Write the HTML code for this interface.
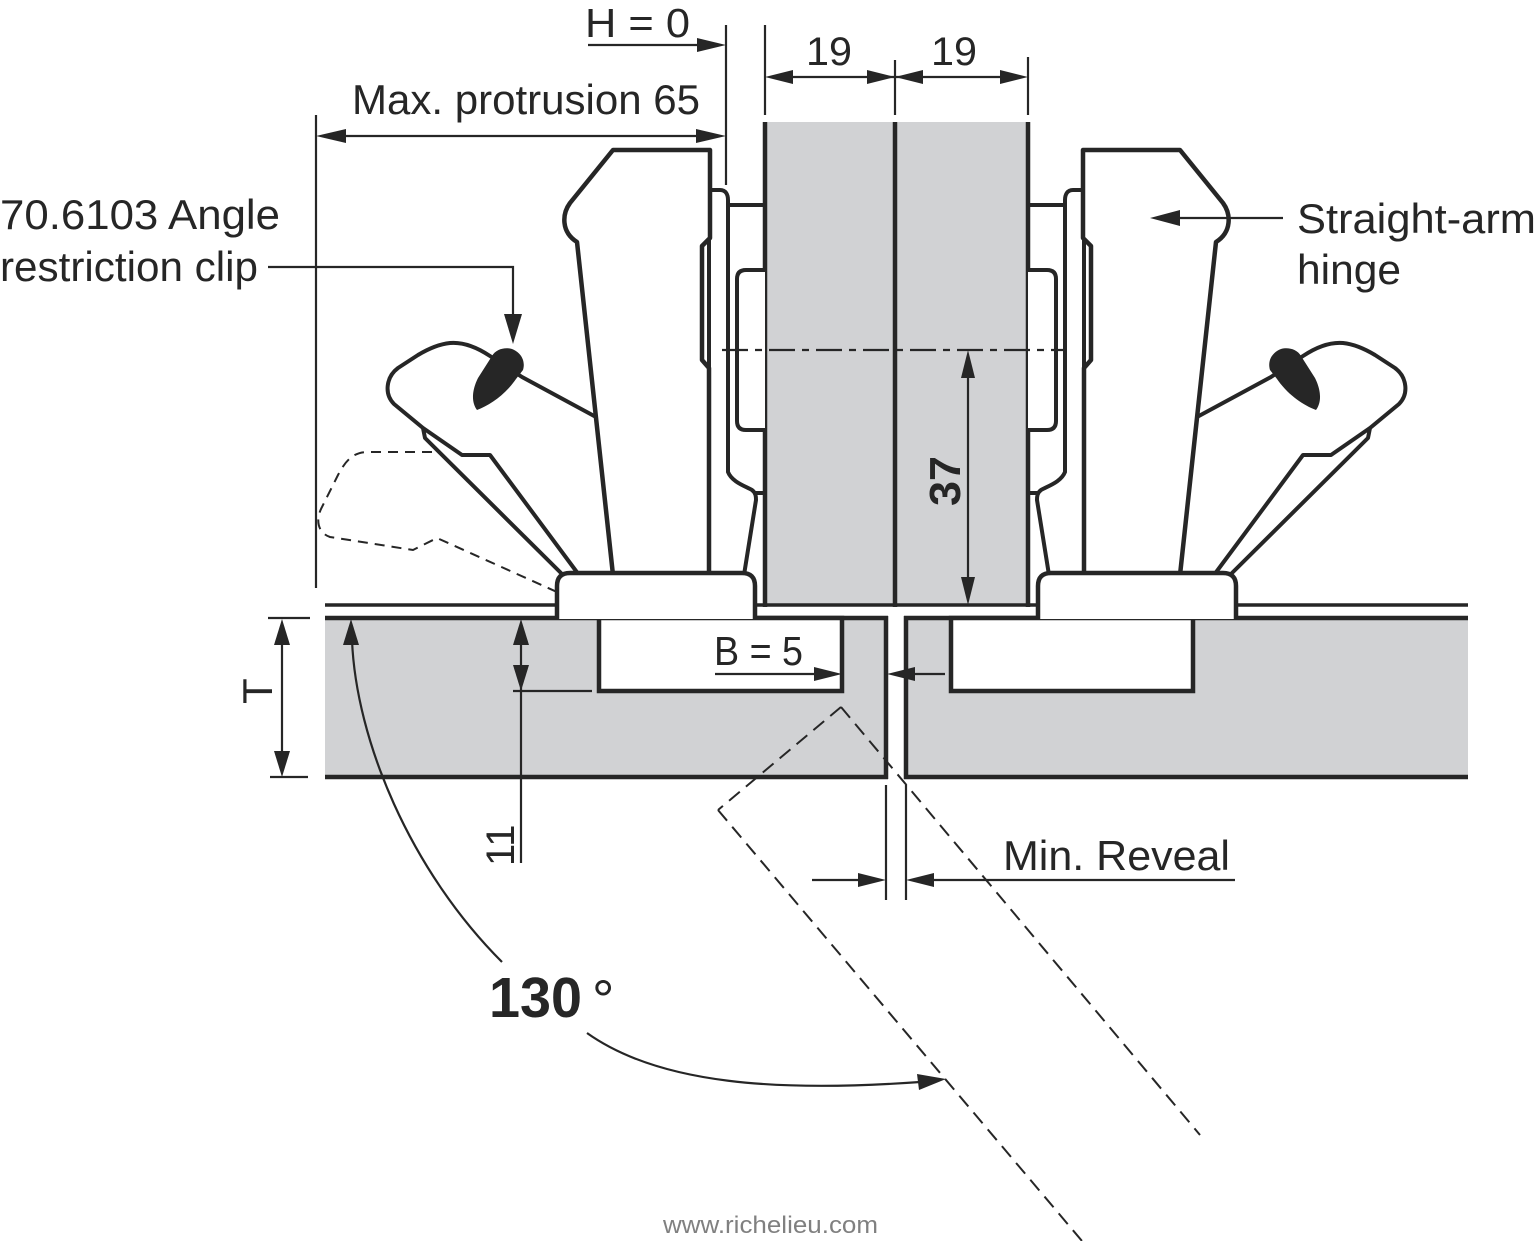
<!DOCTYPE html>
<html>
<head>
<meta charset="utf-8">
<style>
html,body{margin:0;padding:0;background:#fff;}
svg{display:block;}
text{font-family:"Liberation Sans",Arial,sans-serif;fill:#262626;}
</style>
</head>
<body>
<svg width="1536" height="1241" viewBox="0 0 1536 1241" xmlns="http://www.w3.org/2000/svg">
<rect width="1536" height="1241" fill="#fff"/>

<!-- Doors (vertical gray) -->
<rect x="765" y="122" width="263" height="483" fill="#d1d2d4"/>
<g stroke="#262626" stroke-width="4.5" fill="none">
  <line x1="765" y1="122" x2="765" y2="607"/>
  <line x1="895" y1="122" x2="895" y2="607"/>
  <line x1="1028" y1="122" x2="1028" y2="607"/>
</g>

<!-- Cabinet panels -->
<rect x="325" y="618" width="561" height="159" fill="#d1d2d4"/>
<rect x="906" y="618" width="562" height="159" fill="#d1d2d4"/>
<g stroke="#262626" stroke-width="4.5" fill="none">
  <line x1="325" y1="618" x2="888" y2="618"/>
  <line x1="325" y1="777" x2="888" y2="777"/>
  <line x1="886" y1="616" x2="886" y2="779"/>
  <line x1="904" y1="618" x2="1468" y2="618"/>
  <line x1="904" y1="777" x2="1468" y2="777"/>
  <line x1="906" y1="616" x2="906" y2="779"/>
</g>
<g stroke="#262626" stroke-width="3.5" fill="none">
  <line x1="325" y1="605" x2="560" y2="605"/>
  <line x1="752" y1="605" x2="1040" y2="605"/>
  <line x1="1233" y1="605" x2="1468" y2="605"/>
</g>
<!-- recesses -->
<rect x="599" y="618" width="243" height="73" fill="#fff" stroke="#262626" stroke-width="4.5"/>
<rect x="951" y="618" width="242" height="73" fill="#fff" stroke="#262626" stroke-width="4.5"/>

<!-- Hinge definition (left), mirrored for right -->
<defs>
<g id="hinge">
  <path d="M596,417 L522,377 L490,356 C475,346 462,342 450,343 C440,344 428,349 418,355 L398,368 C386,377 384,394 394,404 L423,428 L462,455 L490,455 L579,575 L613,575 Z" fill="#fff" stroke="none"/>
  <path d="M596,417 L522,377 L490,356 C475,346 462,342 450,343 C440,344 428,349 418,355 L398,368 C386,377 384,394 394,404 L423,428 L462,455 L490,455 L579,575" fill="none" stroke="#262626" stroke-width="4" stroke-linejoin="round"/>
  <path d="M423,428 L425,438 L563,575" fill="none" stroke="#262626" stroke-width="4" stroke-linejoin="round"/>
  <path d="M492,356 C496,349 505,347 512,349 C520,352 526,360 523,370 L516,379 C505,395 490,405 477,410 C471,402 472,390 478,378 Z" fill="#262626"/>
  <path d="M709,190 L720,190 C726,190 728,195 728,200 L728,472 C732,482 745,486 752,490 C756,493 756,497 756,500 L744,575 L709,575 Z" fill="#fff" stroke="#262626" stroke-width="4" stroke-linejoin="round"/>
  <line x1="728" y1="205" x2="765" y2="205" stroke="#262626" stroke-width="4"/>
  <line x1="755" y1="493" x2="765" y2="493" stroke="#262626" stroke-width="4"/>
  <path d="M765,270 L746,270 Q737,270 737,279 L737,421 Q737,430 746,430 L765,430" fill="#fff" stroke="#262626" stroke-width="4"/>
  <path d="M613,150 L710,150 L710,238 L702,246 L702,360 L709,368 L709,575 L613,575 L577,242 C561,232 562,214 570,203 Z" fill="#fff" stroke="#262626" stroke-width="4.5" stroke-linejoin="round"/>
  <path d="M557,619 L557,586 Q557,573 570,573 L742,573 Q755,573 755,586 L755,619" fill="#fff" stroke="#262626" stroke-width="4.5" stroke-linejoin="round"/>
</g>
</defs>
<use href="#hinge"/>
<use href="#hinge" transform="translate(1793,0) scale(-1,1)"/>

<!-- dashed alternate lever outline -->
<path d="M432,452 L368,452 C352,452 345,462 338,475 L322,507 C315,520 318,533 330,537 L413,550 L437,538 L557,592" fill="none" stroke="#262626" stroke-width="2" stroke-dasharray="10 7"/>

<!-- dimension lines -->
<g stroke="#262626" stroke-width="2.2" fill="none">
  <line x1="316" y1="115" x2="316" y2="588"/>
  <line x1="726" y1="25" x2="726" y2="185"/>
  <line x1="588" y1="45" x2="700" y2="45"/>
  <line x1="340" y1="136" x2="700" y2="136"/>
  <line x1="765" y1="25" x2="765" y2="115"/>
  <line x1="895" y1="60" x2="895" y2="115"/>
  <line x1="1028" y1="57" x2="1028" y2="115"/>
  <line x1="785" y1="77" x2="1010" y2="77"/>
  <line x1="722" y1="350" x2="1065" y2="350" stroke-dasharray="26 7 7 7"/>
  <line x1="968" y1="370" x2="968" y2="585"/>
  <line x1="268" y1="618" x2="310" y2="618"/>
  <line x1="270" y1="777" x2="308" y2="777"/>
  <line x1="282" y1="640" x2="282" y2="760"/>
  <line x1="521" y1="640" x2="521" y2="863"/>
  <line x1="513" y1="691" x2="592" y2="691"/>
  <line x1="715" y1="674" x2="820" y2="674"/>
  <line x1="910" y1="674" x2="945" y2="674"/>
  <line x1="886" y1="785" x2="886" y2="900"/>
  <line x1="906" y1="785" x2="906" y2="900"/>
  <line x1="812" y1="880" x2="865" y2="880"/>
  <line x1="928" y1="880" x2="1235" y2="880"/>
  <polyline points="268,267 513,267 513,320"/>
  <line x1="1283" y1="218" x2="1175" y2="218"/>
  <path d="M352,640 C356,740 410,870 502,962"/>
  <path d="M587,1033 C660,1085 780,1092 920,1082"/>
</g>

<!-- dashed open door -->
<g stroke="#262626" stroke-width="2" fill="none" stroke-dasharray="14 8">
  <line x1="841" y1="707" x2="718" y2="810"/>
  <line x1="841" y1="707" x2="1200" y2="1135"/>
  <line x1="718" y1="810" x2="1082" y2="1241"/>
</g>

<!-- arrowheads -->
<g fill="#262626">
  <polygon points="726,45 697,38 697,52"/>
  <polygon points="316,136 346,129 346,143"/>
  <polygon points="726,136 696,129 696,143"/>
  <polygon points="765,77 793,70 793,84"/>
  <polygon points="895,77 867,70 867,84"/>
  <polygon points="895,77 923,70 923,84"/>
  <polygon points="1028,77 1000,70 1000,84"/>
  <polygon points="968,350 961,378 975,378"/>
  <polygon points="968,605 961,577 975,577"/>
  <polygon points="282,619 274,645 290,645"/>
  <polygon points="282,777 274,751 290,751"/>
  <polygon points="521,619 513,645 529,645"/>
  <polygon points="521,691 513,665 529,665"/>
  <polygon points="842,674 814,667 814,681"/>
  <polygon points="887,674 915,667 915,681"/>
  <polygon points="886,880 858,873 858,887"/>
  <polygon points="906,880 934,873 934,887"/>
  <polygon points="351,619 343,645 359,645"/>
  <polygon points="946,1079 919,1090 917,1074"/>
  <polygon points="513,344 504,314 522,314"/>
  <polygon points="1150,218 1180,210 1180,226"/>
</g>

<!-- labels -->
<text x="585" y="37" font-size="41" textLength="105" lengthAdjust="spacingAndGlyphs">H = 0</text>
<text x="352" y="114" font-size="42" textLength="348" lengthAdjust="spacingAndGlyphs">Max. protrusion 65</text>
<text x="806" y="65" font-size="40" textLength="46" lengthAdjust="spacingAndGlyphs">19</text>
<text x="931" y="65" font-size="40" textLength="46" lengthAdjust="spacingAndGlyphs">19</text>
<text x="0" y="229" font-size="42" textLength="280" lengthAdjust="spacingAndGlyphs">70.6103 Angle</text>
<text x="0" y="281" font-size="42" textLength="258" lengthAdjust="spacingAndGlyphs">restriction clip</text>
<text x="1297" y="233" font-size="42" textLength="239" lengthAdjust="spacingAndGlyphs">Straight-arm</text>
<text x="1297" y="284" font-size="42" textLength="104" lengthAdjust="spacingAndGlyphs">hinge</text>
<text x="714" y="665" font-size="41" textLength="89" lengthAdjust="spacingAndGlyphs">B = 5</text>
<text x="1003" y="870" font-size="42" textLength="227" lengthAdjust="spacingAndGlyphs">Min. Reveal</text>
<text transform="translate(960,506) rotate(-90)" font-size="44" font-weight="bold" textLength="50" lengthAdjust="spacingAndGlyphs">37</text>
<text transform="translate(272,704) rotate(-90)" font-size="42">T</text>
<text transform="translate(514,866) rotate(-90)" font-size="40">11</text>
<text x="489" y="1017" font-size="57" font-weight="bold" textLength="93" lengthAdjust="spacingAndGlyphs">130</text>
<text x="592" y="1019" font-size="56">°</text>
<text x="663" y="1233" font-size="24" style="fill:#808080" textLength="215" lengthAdjust="spacingAndGlyphs">www.richelieu.com</text>
</svg>
</body>
</html>
